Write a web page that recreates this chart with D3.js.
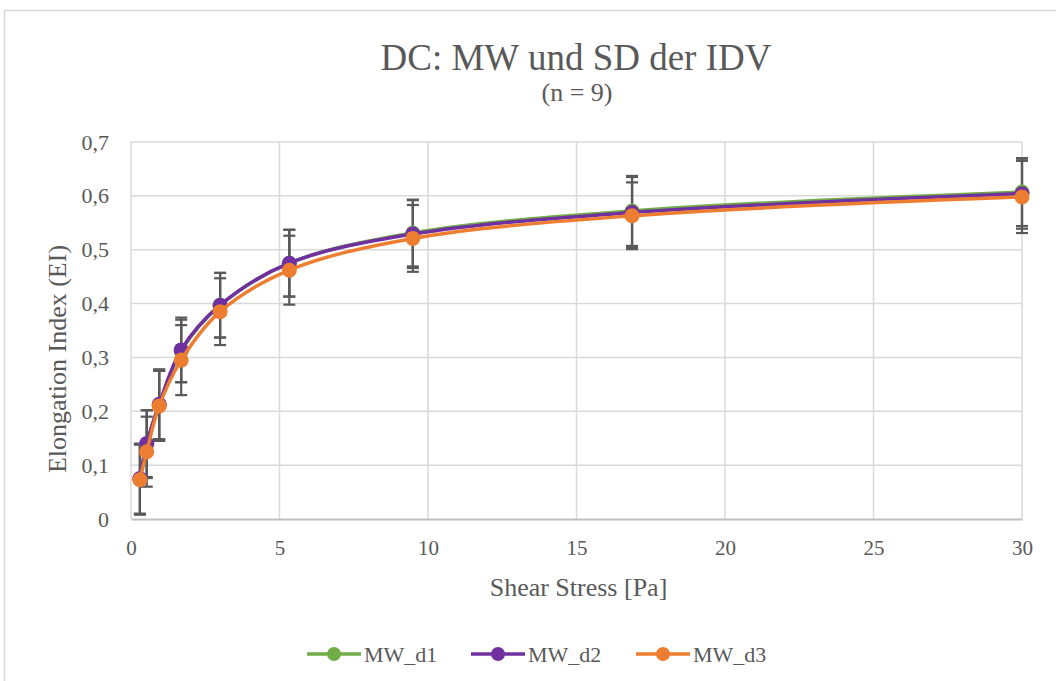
<!DOCTYPE html>
<html>
<head>
<meta charset="utf-8">
<script src="https://cdn.jsdelivr.net/npm/d3@7"></script>
<style>
  body { margin: 0; background: #fff; }
</style>
</head>
<body>
<div id="chart"></div>
<script>
// data
var stress = [0.3, 0.53, 0.95, 1.69, 3, 5.33, 9.49, 16.87, 30];
var mw_d1 = [0.074, 0.139, 0.212, 0.312, 0.397, 0.475, 0.531, 0.572, 0.607];
var mw_d2 = [0.075, 0.140, 0.213, 0.314, 0.397, 0.475, 0.529, 0.569, 0.604];
var mw_d3 = [0.073, 0.125, 0.210, 0.295, 0.385, 0.462, 0.521, 0.563, 0.598];
var sd_d1 = [0.065, 0.063, 0.064, 0.058, 0.060, 0.062, 0.062, 0.065, 0.063];
var sd_d2 = [0.065, 0.062, 0.065, 0.060, 0.060, 0.062, 0.063, 0.066, 0.065];
var sd_d3 = [0.065, 0.065, 0.065, 0.065, 0.062, 0.064, 0.062, 0.062, 0.067];
var seriesNames = ["MW_d1", "MW_d2", "MW_d3"];
var seriesColors = ["#70ad47", "#7030a0", "#ed7d31"];
var xTicks = [0, 5, 10, 15, 20, 25, 30];
var yTicks = [0, 0.1, 0.2, 0.3, 0.4, 0.5, 0.6, 0.7];

var series = [
  {name: seriesNames[0], color: seriesColors[0], mw: mw_d1, sd: sd_d1},
  {name: seriesNames[1], color: seriesColors[1], mw: mw_d2, sd: sd_d2},
  {name: seriesNames[2], color: seriesColors[2], mw: mw_d3, sd: sd_d3}
];

// serif text style
function font(size) {
  return "font-family:'Times New Roman', Tinos, 'Liberation Serif', serif; font-size:" + size + "px; fill:#595959";
}

var W = 1056, H = 681;
var margin = {top: 142, right: 34, bottom: 162, left: 131},
    width = W - margin.left - margin.right,
    height = H - margin.top - margin.bottom;

var svg = d3.select("#chart")
  .append("svg")
    .attr("width", W)
    .attr("height", H);

// chart frame
svg.append("rect")
  .attr("x", 4.5).attr("y", 10.5)
  .attr("width", W + 10).attr("height", H + 10)
  .attr("fill", "none")
  .attr("stroke", "#d9d9d9")
  .attr("stroke-width", 1.5);

var canvas = svg.append("g")
  .attr("transform", "translate(" + margin.left + "," + margin.top + ")");

var x = d3.scaleLinear().domain([0, 30]).range([0, width]);
var y = d3.scaleLinear().domain([0, 0.7]).range([height, 0]);

// gridlines
canvas.append("g")
  .selectAll("line")
  .data(yTicks.slice(1))
  .enter().append("line")
    .attr("x1", 0).attr("x2", width)
    .attr("y1", d => y(d)).attr("y2", d => y(d))
    .attr("stroke", "#d9d9d9").attr("stroke-width", 1.5);

canvas.append("g")
  .selectAll("line")
  .data(xTicks)
  .enter().append("line")
    .attr("x1", d => x(d)).attr("x2", d => x(d))
    .attr("y1", 0).attr("y2", height)
    .attr("stroke", "#d9d9d9").attr("stroke-width", 1.5);

// axes
var xAxis = canvas.append("g")
  .attr("transform", "translate(0," + height + ")")
  .call(d3.axisBottom(x).tickValues(xTicks).tickSize(0).tickPadding(21));
xAxis.attr("font-family", null).attr("font-size", null);
xAxis.select(".domain").attr("stroke", "#bfbfbf").attr("stroke-width", 2);
xAxis.selectAll("text").attr("fill", null).attr("style", font(21));

var yAxis = canvas.append("g")
  .call(d3.axisLeft(y).tickValues(yTicks).tickSize(0).tickPadding(22)
    .tickFormat(d => d === 0 ? "0" : d3.format(".1f")(d).replace(".", ",")));
yAxis.attr("font-family", null).attr("font-size", null);
yAxis.select(".domain").remove();
yAxis.selectAll("text").attr("fill", null).attr("style", font(22));

// error bars
var capW = 6;
series.forEach(function(s) {
  var pts = stress.map((v, i) => ({x: v, m: s.mw[i], sd: s.sd[i]}));
  var g = canvas.append("g").attr("stroke", "#595959").attr("stroke-width", 2.2);
  g.selectAll(".bar").data(pts).enter().append("line")
    .attr("x1", d => x(d.x)).attr("x2", d => x(d.x))
    .attr("y1", d => y(d.m - d.sd)).attr("y2", d => y(d.m + d.sd));
  g.selectAll(".top").data(pts).enter().append("line")
    .attr("x1", d => x(d.x) - capW).attr("x2", d => x(d.x) + capW)
    .attr("y1", d => y(d.m + d.sd)).attr("y2", d => y(d.m + d.sd));
  g.selectAll(".bot").data(pts).enter().append("line")
    .attr("x1", d => x(d.x) - capW).attr("x2", d => x(d.x) + capW)
    .attr("y1", d => y(d.m - d.sd)).attr("y2", d => y(d.m - d.sd));
});

// smoothed lines + markers
var line = d3.line()
  .x(d => x(d[0]))
  .y(d => y(d[1]))
  .curve(d3.curveCatmullRom.alpha(0.5));

series.forEach(function(s) {
  var pts = stress.map((v, i) => [v, s.mw[i]]);
  canvas.append("path")
    .datum(pts)
    .attr("d", line)
    .attr("fill", "none")
    .attr("stroke", s.color)
    .attr("stroke-width", 3.5);
  canvas.selectAll(null)
    .data(pts)
    .enter().append("circle")
      .attr("cx", d => x(d[0]))
      .attr("cy", d => y(d[1]))
      .attr("r", 7.5)
      .attr("fill", s.color);
});

// titles
svg.append("text")
  .attr("x", 576).attr("y", 70)
  .attr("text-anchor", "middle")
  .attr("style", font(37))
  .text("DC: MW und SD der IDV");
svg.append("text")
  .attr("x", 577).attr("y", 101)
  .attr("text-anchor", "middle")
  .attr("style", font(26))
  .text("(n = 9)");

svg.append("text")
  .attr("x", margin.left + width / 2 + 2).attr("y", 596)
  .attr("text-anchor", "middle")
  .attr("style", font(26))
  .text("Shear Stress [Pa]");

svg.append("text")
  .attr("transform", "translate(66,359) rotate(-90)")
  .attr("text-anchor", "middle")
  .attr("style", font(26))
  .text("Elongation Index (EI)");

// legend
var legendX = [307, 471, 636];
seriesNames.forEach(function(name, i) {
  svg.append("line")
    .attr("x1", legendX[i]).attr("x2", legendX[i] + 54)
    .attr("y1", 654).attr("y2", 654)
    .attr("stroke", seriesColors[i]).attr("stroke-width", 3.5);
  svg.append("circle")
    .attr("cx", legendX[i] + 27).attr("cy", 654)
    .attr("r", 7).attr("fill", seriesColors[i]);
  svg.append("text")
    .attr("x", legendX[i] + 57).attr("y", 662)
    .attr("style", font(22))
    .text(name);
});
</script>
</body>
</html>
